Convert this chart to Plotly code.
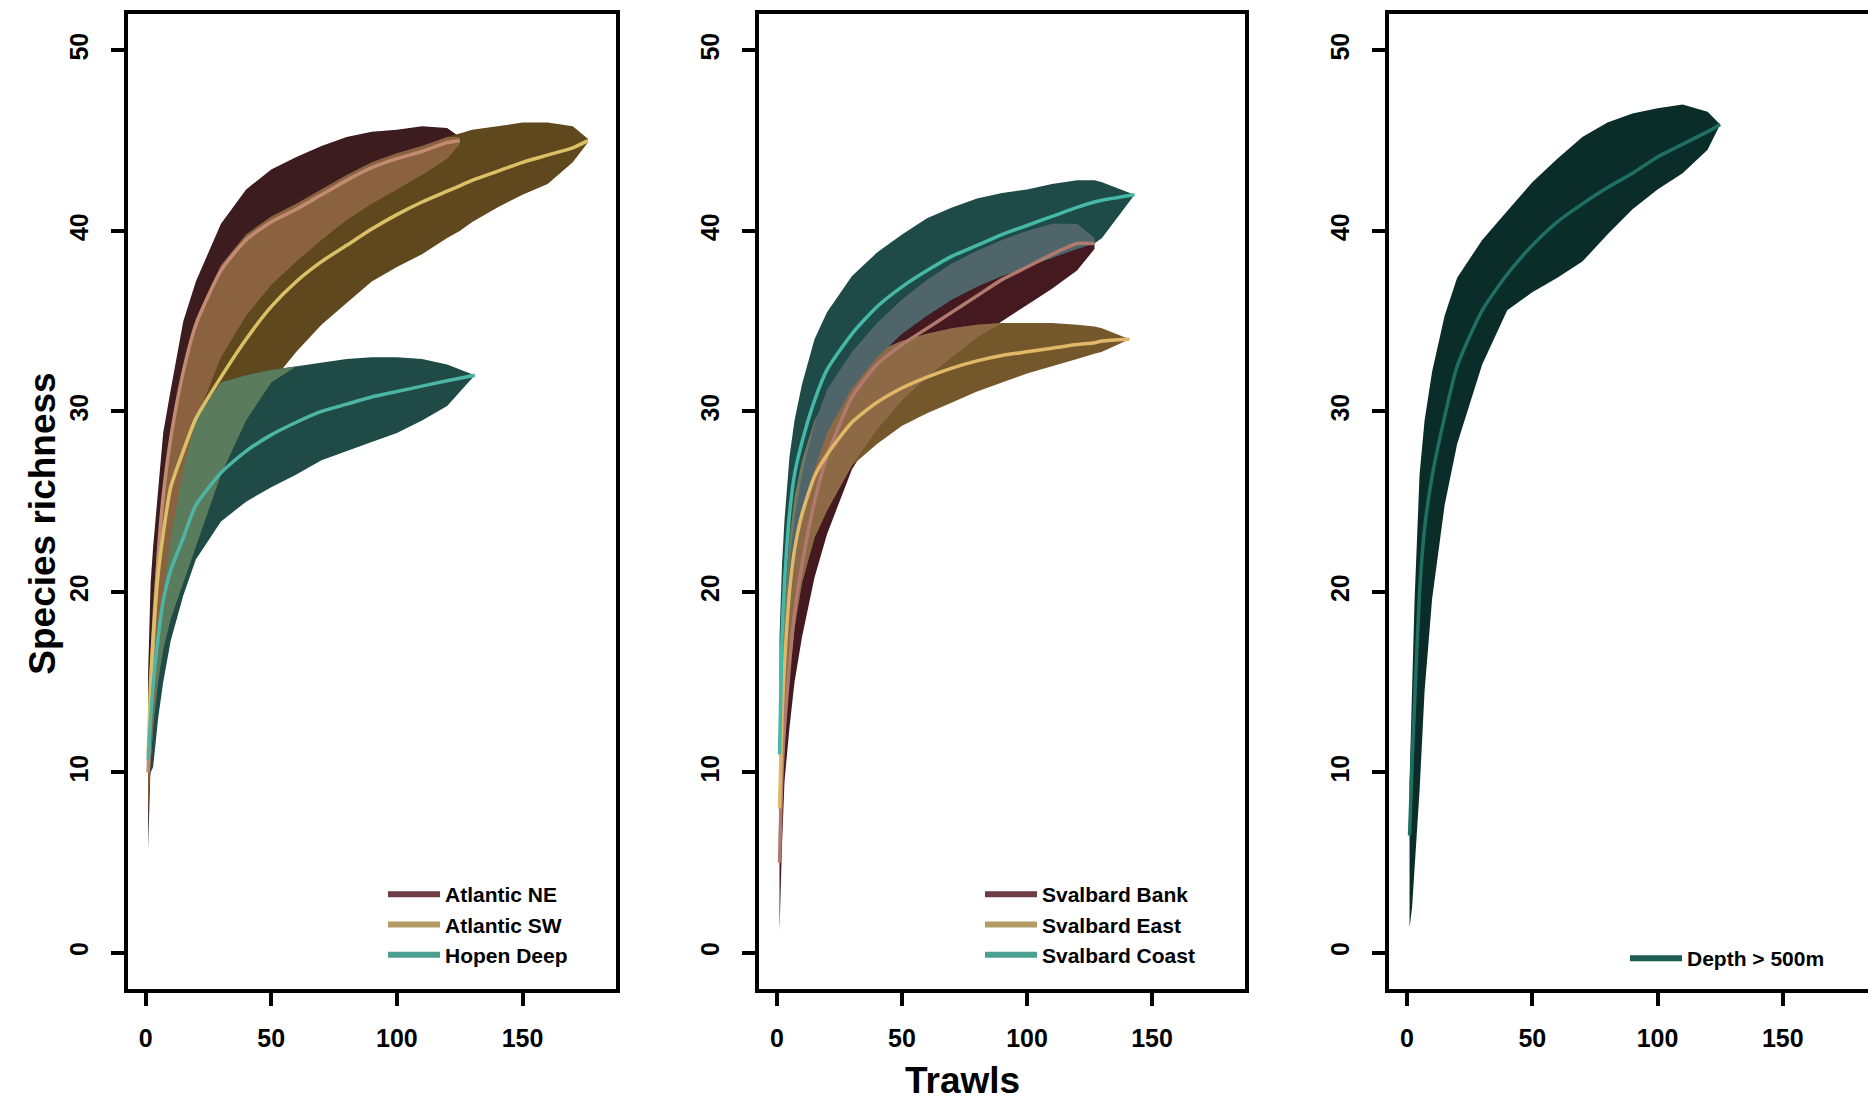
import plotly.graph_objects as go

# ---------------- data ----------------
X_BASE = [1, 2, 3, 5, 7, 10, 15, 20, 30, 40, 50, 60, 70, 80, 90, 100, 110, 120]

# Panel 1
ne_x = X_BASE + [125]
ne_hi = [15.5, 20.5, 22.5, 25.5, 28.8, 31.2, 35.0, 37.2, 40.4, 42.3, 43.4, 44.1, 44.7, 45.2, 45.5, 45.6, 45.8, 45.7, 45.2]
ne_med = [10.0, 14.0, 17.0, 22.0, 25.3, 28.5, 32.2, 34.8, 37.8, 39.5, 40.5, 41.2, 42.0, 42.8, 43.5, 44.0, 44.4, 44.9, 45.0]
ne_lo = [5.7, 10.5, 13.0, 17.0, 20.0, 23.0, 26.8, 29.5, 33.0, 35.3, 37.0, 38.3, 39.5, 40.6, 41.5, 42.3, 43.1, 44.0, 44.8]

sw_x = X_BASE + [125, 130, 140, 150, 160, 170, 176]
sw_hi = [14.0, 17.0, 19.5, 23.0, 25.8, 29.0, 32.5, 35.1, 38.1, 39.8, 40.8, 41.5, 42.3, 43.1, 43.8, 44.3, 44.7, 45.2, 45.4, 45.6, 45.8, 46.0, 46.0, 45.8, 45.1]
sw_med = [11.0, 15.0, 17.5, 21.0, 23.2, 25.8, 27.8, 29.6, 31.9, 34.0, 35.8, 37.2, 38.3, 39.2, 40.1, 40.9, 41.6, 42.2, 42.5, 42.8, 43.3, 43.8, 44.2, 44.6, 45.0]
sw_lo = [8.0, 10.5, 12.5, 15.0, 16.8, 18.5, 20.5, 22.5, 26.5, 29.5, 31.6, 33.3, 34.8, 36.0, 37.2, 38.0, 38.7, 39.6, 40.0, 40.5, 41.3, 42.0, 42.6, 43.8, 44.9]

hd_x = X_BASE + [131]
hd_hi = [11.6, 15.5, 18.5, 21.5, 23.2, 25.8, 27.8, 29.6, 31.6, 32.0, 32.3, 32.5, 32.7, 32.9, 33.0, 33.0, 32.9, 32.6, 32.0]
hd_med = [10.7, 13.0, 14.8, 17.5, 19.5, 21.2, 23.0, 24.8, 26.6, 27.8, 28.7, 29.4, 30.0, 30.4, 30.8, 31.1, 31.4, 31.7, 32.0]
hd_lo = [9.8, 10.0, 10.3, 13.0, 15.0, 17.3, 19.8, 21.8, 23.9, 25.0, 25.8, 26.5, 27.3, 27.8, 28.3, 28.8, 29.5, 30.3, 32.0]

# Panel 2
bk_x = X_BASE + [127]
bk_hi = [8.8, 14.5, 17.5, 21.5, 24.0, 26.5, 29.3, 31.2, 33.3, 34.9, 36.2, 37.3, 38.2, 38.9, 39.5, 40.0, 40.4, 40.4, 39.6]
bk_med = [5.0, 10.0, 12.5, 16.0, 18.8, 21.5, 25.0, 27.5, 30.8, 32.6, 33.7, 34.6, 35.5, 36.4, 37.3, 38.0, 38.7, 39.3, 39.3]
bk_lo = [1.2, 6.0, 9.5, 12.5, 15.0, 17.5, 20.8, 23.2, 26.8, 29.0, 30.6, 31.9, 33.0, 34.1, 35.0, 35.9, 36.8, 37.8, 39.0]

ea_x = X_BASE + [127, 130, 141]
ea_hi = [9.0, 15.5, 19.0, 23.0, 25.3, 27.3, 29.5, 30.8, 32.4, 33.3, 33.9, 34.3, 34.6, 34.8, 34.9, 34.9, 34.9, 34.8, 34.7, 34.6, 34.0]
ea_med = [8.0, 13.0, 16.0, 20.0, 22.3, 24.3, 26.4, 27.6, 29.4, 30.5, 31.3, 31.9, 32.4, 32.8, 33.1, 33.3, 33.5, 33.7, 33.8, 33.9, 34.0]
ea_lo = [6.0, 9.5, 12.0, 15.5, 18.0, 20.5, 23.0, 24.5, 27.0, 28.2, 29.2, 29.9, 30.5, 31.1, 31.6, 32.1, 32.5, 32.9, 33.2, 33.3, 34.0]

co_x = X_BASE + [127, 130, 143]
co_hi = [17.5, 21.5, 24.0, 27.5, 29.5, 31.5, 34.0, 35.5, 37.5, 38.8, 39.8, 40.7, 41.3, 41.8, 42.1, 42.3, 42.6, 42.8, 42.8, 42.7, 42.0]
co_med = [11.0, 17.5, 20.5, 24.3, 26.5, 28.3, 30.6, 32.3, 34.3, 35.8, 36.9, 37.8, 38.6, 39.2, 39.8, 40.3, 40.8, 41.3, 41.6, 41.7, 42.0]
co_lo = [9.3, 13.0, 15.5, 19.0, 21.5, 24.0, 26.8, 28.8, 31.3, 33.0, 34.3, 35.3, 36.2, 36.9, 37.5, 38.0, 38.5, 39.0, 39.3, 39.6, 42.0]

# Panel 3
dp_x = X_BASE + [125]
dp_hi = [9.5, 15.0, 19.5, 26.5, 29.5, 32.2, 35.3, 37.4, 39.5, 41.1, 42.7, 44.0, 45.2, 46.0, 46.5, 46.8, 47.0, 46.6, 45.9]
dp_med = [6.5, 10.5, 13.8, 20.0, 23.5, 26.4, 29.7, 32.5, 35.6, 37.6, 39.2, 40.5, 41.5, 42.4, 43.2, 44.1, 44.8, 45.5, 45.9]
dp_lo = [1.4, 2.5, 4.8, 9.0, 14.5, 19.6, 24.8, 28.2, 32.6, 35.6, 36.6, 37.4, 38.3, 39.8, 41.2, 42.3, 43.2, 44.5, 45.9]

Y_TICKS = [0, 10, 20, 30, 40, 50]
X_TICKS = [0, 50, 100, 150]

# ---------------- styling ----------------
FONT = "Liberation Sans, Arial, sans-serif"
W, H = 1868, 1103


def series(x, lo, med, hi):
    return {"x": x, "lo": lo, "med": med, "hi": hi}


def band_trace(s, color, xa, ya):
    xs = list(s["x"]) + list(s["x"])[::-1]
    ys = list(s["hi"]) + list(s["lo"])[::-1]
    return go.Scatter(x=xs, y=ys, fill="toself", fillcolor=color, mode="lines",
                      line=dict(width=0, color=color), hoverinfo="skip",
                      showlegend=False, xaxis=xa, yaxis=ya)


def overlap_trace(a, b, color, xa, ya):
    ia = {v: i for i, v in enumerate(a["x"])}
    ib = {v: i for i, v in enumerate(b["x"])}
    common = [v for v in a["x"] if v in ib]
    hi = [min(a["hi"][ia[v]], b["hi"][ib[v]]) for v in common]
    lo = [max(a["lo"][ia[v]], b["lo"][ib[v]]) for v in common]
    lo = [min(l, h) for l, h in zip(lo, hi)]
    xs = common + common[::-1]
    ys = hi + lo[::-1]
    return go.Scatter(x=xs, y=ys, fill="toself", fillcolor=color, mode="lines",
                      line=dict(width=0, color=color), hoverinfo="skip",
                      showlegend=False, xaxis=xa, yaxis=ya)


def med_trace(s, color, xa, ya):
    return go.Scatter(x=s["x"], y=s["med"], mode="lines",
                      line=dict(color=color, width=3.5, shape="spline", smoothing=0.6),
                      hoverinfo="skip", showlegend=False, xaxis=xa, yaxis=ya)


def legend_trace(name, color, legend, xa, ya):
    return go.Scatter(x=[None], y=[None], mode="lines", name=name,
                      line=dict(color=color, width=6), legend=legend,
                      xaxis=xa, yaxis=ya)


NE = series(ne_x, ne_lo, ne_med, ne_hi)
SW = series(sw_x, sw_lo, sw_med, sw_hi)
HD = series(hd_x, hd_lo, hd_med, hd_hi)
BK = series(bk_x, bk_lo, bk_med, bk_hi)
EA = series(ea_x, ea_lo, ea_med, ea_hi)
CO = series(co_x, co_lo, co_med, co_hi)
DP = series(dp_x, dp_lo, dp_med, dp_hi)

fig = go.Figure()

# Panel 1
fig.add_trace(band_trace(NE, "#3c1c1f", "x", "y"))
fig.add_trace(band_trace(SW, "#5f481e", "x", "y"))
fig.add_trace(band_trace(HD, "#1f4a46", "x", "y"))
fig.add_trace(overlap_trace(NE, HD, "#6a7058", "x", "y"))
fig.add_trace(overlap_trace(SW, HD, "#5b7b5d", "x", "y"))
fig.add_trace(overlap_trace(NE, SW, "#8a6240", "x", "y"))
fig.add_trace(med_trace(NE, "#c28a72", "x", "y"))
fig.add_trace(med_trace(SW, "#dcc068", "x", "y"))
fig.add_trace(med_trace(HD, "#4db5a5", "x", "y"))
fig.add_trace(legend_trace("Atlantic NE", "#6e3c44", "legend", "x", "y"))
fig.add_trace(legend_trace("Atlantic SW", "#b49a64", "legend", "x", "y"))
fig.add_trace(legend_trace("Hopen Deep", "#4ba091", "legend", "x", "y"))

# Panel 2
fig.add_trace(band_trace(BK, "#44191f", "x2", "y2"))
fig.add_trace(band_trace(EA, "#74572a", "x2", "y2"))
fig.add_trace(band_trace(CO, "#1e4a48", "x2", "y2"))
fig.add_trace(overlap_trace(CO, EA, "#6e7a62", "x2", "y2"))
fig.add_trace(overlap_trace(BK, EA, "#8d6a45", "x2", "y2"))
fig.add_trace(overlap_trace(CO, BK, "#50656a", "x2", "y2"))
fig.add_trace(med_trace(BK, "#b07a6e", "x2", "y2"))
fig.add_trace(med_trace(EA, "#e0b868", "x2", "y2"))
fig.add_trace(med_trace(CO, "#45b8a8", "x2", "y2"))
fig.add_trace(legend_trace("Svalbard Bank", "#6e3c44", "legend2", "x2", "y2"))
fig.add_trace(legend_trace("Svalbard East", "#b49a64", "legend2", "x2", "y2"))
fig.add_trace(legend_trace("Svalbard Coast", "#4ba091", "legend2", "x2", "y2"))

# Panel 3
fig.add_trace(band_trace(DP, "#0b2d29", "x3", "y3"))
fig.add_trace(med_trace(DP, "#1f7062", "x3", "y3"))
fig.add_trace(legend_trace("Depth > 500m", "#1d5c52", "legend3", "x3", "y3"))

# ---------------- layout ----------------
YDOM = [1 - 989 / H, 1 - 14.3 / H]
XDOMS = [[127.5 / W, 616 / W], [759 / W, 1245 / W], [1389 / W, 1.0]]
XRANGES = [[-7.2, 187.2], [-7.2, 187.2], [-7.2, -7.2 + (W - 1389) / 2.505]]

tickfont = dict(family=FONT, size=25, color="black", weight="bold")
layout = dict(width=W, height=H, margin=dict(l=0, r=0, t=0, b=0),
              paper_bgcolor="white", plot_bgcolor="white",
              font=dict(family=FONT, color="black"))

for i in range(3):
    sx = "" if i == 0 else str(i + 1)
    layout["xaxis" + sx] = dict(
        domain=XDOMS[i], range=XRANGES[i], anchor="y" + sx,
        showgrid=False, zeroline=False, showline=True, mirror=True,
        linecolor="black", linewidth=4, ticks="outside", ticklen=13,
        tickwidth=4, tickcolor="black", tickvals=X_TICKS,
        ticktext=[str(v) for v in X_TICKS], tickfont=tickfont,
        ticklabelstandoff=11, fixedrange=True)
    layout["yaxis" + sx] = dict(
        domain=YDOM, range=[-2, 52], anchor="x" + sx,
        showgrid=False, zeroline=False, showline=True, mirror=(i < 2),
        linecolor="black", linewidth=4, ticks="outside", ticklen=13,
        tickwidth=4, tickcolor="black", tickvals=Y_TICKS,
        ticktext=[str(v) for v in Y_TICKS], tickfont=tickfont,
        tickangle=-90, ticklabelstandoff=13, fixedrange=True)

legfont = dict(family=FONT, size=21, color="black", weight="bold")
LEG_W = 52
layout["legend"] = dict(x=383 / W, y=1 - 874 / H, xanchor="left", yanchor="top",
                        bgcolor="rgba(0,0,0,0)", font=legfont, itemwidth=LEG_W,
                        tracegroupgap=0)
layout["legend2"] = dict(x=980 / W, y=1 - 874 / H, xanchor="left", yanchor="top",
                         bgcolor="rgba(0,0,0,0)", font=legfont, itemwidth=LEG_W,
                         tracegroupgap=0)
layout["legend3"] = dict(x=1625 / W, y=1 - 938 / H, xanchor="left", yanchor="top",
                         bgcolor="rgba(0,0,0,0)", font=legfont, itemwidth=LEG_W,
                         tracegroupgap=0)

layout["annotations"] = [
    dict(text="Species richness", x=41.7 / W, y=1 - 524 / H, xref="paper", yref="paper",
         showarrow=False, textangle=-90, xanchor="center", yanchor="middle",
         font=dict(family=FONT, size=37, color="black", weight="bold")),
    dict(text="Trawls", x=962.6 / W, y=1 - 1080 / H, xref="paper", yref="paper",
         showarrow=False, xanchor="center", yanchor="middle",
         font=dict(family=FONT, size=37, color="black", weight="bold")),
]

fig.update_layout(**layout)
fig.write_html("out.html", config={"displayModeBar": False, "staticPlot": True},
               post_script="document.body.style.margin='0px';document.body.style.overflow='hidden';")
